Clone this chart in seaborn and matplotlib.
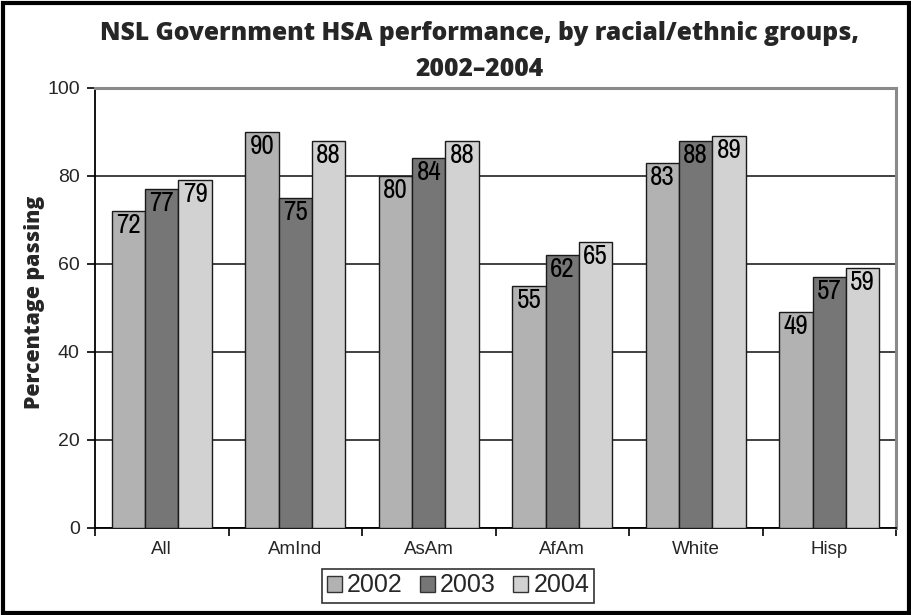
import matplotlib
matplotlib.use("Agg")
import matplotlib.pyplot as plt
from matplotlib.patches import Rectangle
import numpy as np
import pandas as pd
import seaborn as sns

# Percentage of students passing, per group and year
groups = ["All", "AmInd", "AsAm", "AfAm", "White", "Hisp"]
years = ["2002", "2003", "2004"]
pass_2002 = [72, 90, 80, 55, 83, 49]
pass_2003 = [77, 75, 84, 62, 88, 57]
pass_2004 = [79, 88, 88, 65, 89, 59]
y_ticks = [0, 20, 40, 60, 80, 100]
colors = ["#b2b2b2", "#767676", "#d2d2d2"]

df = pd.DataFrame({
    "group": groups * 3,
    "year": sum([[y] * len(groups) for y in years], []),
    "value": pass_2002 + pass_2003 + pass_2004,
})

sns.set_theme(style="white")
plt.rcParams["font.family"] = ["Liberation Sans", "DejaVu Sans"]
heading = ["Open Sans", "DejaVu Sans"]
narrow = ["Archivo Narrow", "Liberation Sans", "DejaVu Sans"]

fig = plt.figure(figsize=(9.11, 6.15), dpi=100)
ax = fig.add_axes([95 / 911, 1 - 528 / 615, 801 / 911, 440 / 615])

sns.barplot(data=df, x="group", y="value", hue="year", order=groups,
            hue_order=years, palette=colors, width=0.75, gap=0,
            edgecolor="#1a1a1a", linewidth=1.0, saturation=1,
            legend=True, ax=ax, zorder=3)

# value labels tucked just inside the top of each bar
for container in ax.containers:
    for bar in container:
        h = bar.get_height()
        ax.annotate(f"{h:.0f}", (bar.get_x() + bar.get_width() / 2, h),
                    xytext=(0, -1.5), textcoords="offset points",
                    ha="center", va="top", fontsize=19.5, family=narrow,
                    color="black", zorder=5)

ax.set_xlim(-0.5, len(groups) - 0.5)
ax.set_ylim(0, 100)
ax.set_yticks(y_ticks)
ax.yaxis.grid(True, color="#333333", linewidth=1.3, zorder=0)
ax.set_axisbelow(True)
ax.set_xlabel("")
ax.set_ylabel("")

ax.tick_params(axis="y", which="major", direction="out", length=6, width=1.2,
               color="black", labelsize=14, pad=5, left=True)
ax.tick_params(axis="x", which="major", length=0, labelsize=13.5, pad=9)
ax.set_xticks(np.arange(-0.5, len(groups)), minor=True)
ax.tick_params(axis="x", which="minor", direction="out", length=6, width=1.2,
               color="black", bottom=True)

for side in ["left", "bottom"]:
    ax.spines[side].set_color("black")
    ax.spines[side].set_linewidth(1.3)
for side in ["top", "right"]:
    ax.spines[side].set_color("#8a8a8a")
    ax.spines[side].set_linewidth(2.2)

leg = ax.legend(loc="center", bbox_to_anchor=(458 / 911, 1 - 585.5 / 615),
                bbox_transform=fig.transFigure, ncol=3, frameon=True,
                fancybox=False, edgecolor="black", fontsize=18,
                handlelength=0.6, handleheight=0.6, handletextpad=0.2,
                columnspacing=0.7, borderpad=0.2, borderaxespad=0)
leg.get_frame().set_linewidth(1.2)
for h in leg.legend_handles:
    h.set_edgecolor("#333333")

fig.text(479 / 911, 1 - 40 / 615,
         "NSL Government HSA performance, by racial/ethnic groups,",
         ha="center", va="baseline", fontsize=17.7, fontweight="heavy",
         family=heading)
fig.text(479 / 911, 1 - 76 / 615, "2002\u20132004",
         ha="center", va="baseline", fontsize=17.7, fontweight="heavy",
         family=heading)
fig.text(35 / 911, 1 - 302 / 615, "Percentage passing", rotation=90,
         ha="center", va="center", fontsize=15.3, fontweight="heavy",
         family=heading)

fig.patches.append(Rectangle((2.5 / 911, 2.5 / 615), 906 / 911, 610 / 615,
                             transform=fig.transFigure, fill=False,
                             edgecolor="black", linewidth=3))

fig.savefig("out.png", dpi=100)
